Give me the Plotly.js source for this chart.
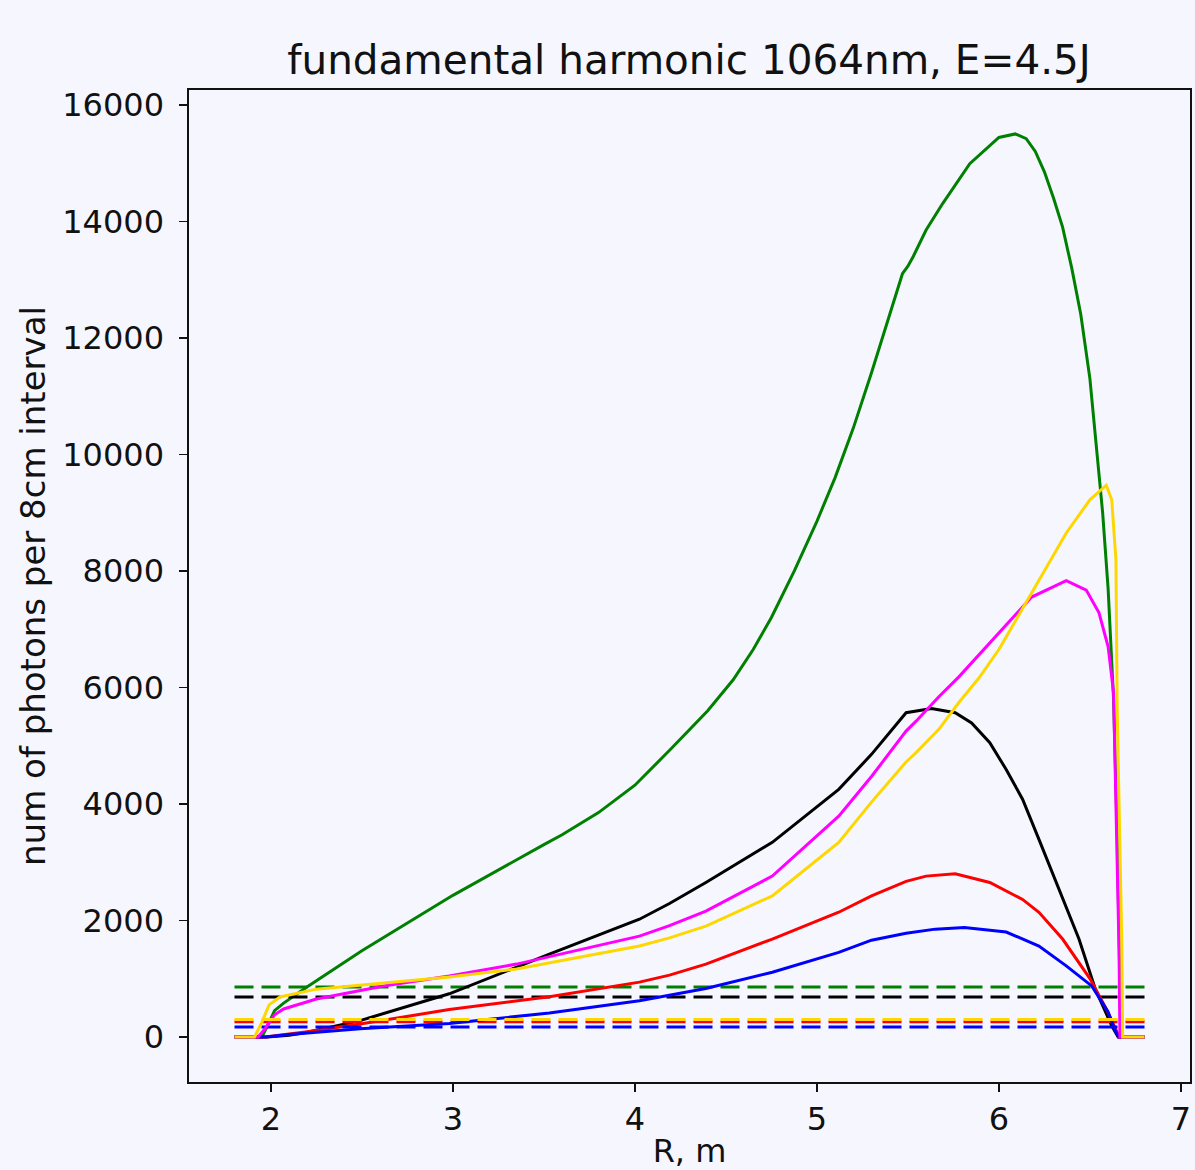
<!DOCTYPE html>
<html>
<head>
<meta charset="utf-8">
<script src="https://cdn.plot.ly/plotly-3.0.1.min.js"></script>
<style>html,body{margin:0;padding:0;background:#f6f7fe;}</style>
</head>
<body>
<div id="chart" style="width:1195px;height:1170px;"></div>
<script>
// R positions (m) and photon counts for each series
const rGreen = [1.8, 1.95, 1.98, 2.02, 2.07, 2.2, 2.5, 3.0, 3.5, 3.6, 3.8, 4.0, 4.2, 4.4, 4.54, 4.65, 4.75, 4.876, 5.0, 5.1, 5.2, 5.3, 5.4, 5.47, 5.5, 5.53, 5.6, 5.69, 5.84, 6.0, 6.09, 6.15, 6.2, 6.25, 6.3, 6.35, 6.4, 6.45, 6.5, 6.54, 6.57, 6.6, 6.63, 6.65, 6.67, 6.8];
const nGreen = [0, 0, 180, 450, 580, 860, 1480, 2430, 3300, 3470, 3850, 4320, 4950, 5600, 6130, 6650, 7200, 8000, 8850, 9600, 10450, 11400, 12400, 13100, 13230, 13400, 13850, 14300, 14990, 15440, 15500, 15420, 15200, 14850, 14400, 13900, 13200, 12400, 11300, 10000, 9000, 7700, 5800, 3500, 0, 0];

const rBlack = [1.8, 1.98, 2.1, 2.2, 2.49, 2.98, 3.53, 4.025, 4.19, 4.39, 4.755, 5.12, 5.3, 5.49, 5.63, 5.76, 5.85, 5.95, 6.04, 6.13, 6.22, 6.33, 6.44, 6.53, 6.62, 6.655, 6.8];
const nBlack = [0, 0, 30, 80, 280, 740, 1420, 2020, 2290, 2650, 3340, 4250, 4850, 5565, 5635, 5565, 5390, 5050, 4590, 4080, 3390, 2550, 1680, 820, 190, 0, 0];

const rRed = [1.8, 1.97, 2.1, 2.2, 2.49, 2.98, 3.53, 4.025, 4.19, 4.39, 4.755, 5.12, 5.3, 5.49, 5.6, 5.76, 5.95, 6.13, 6.22, 6.35, 6.5, 6.59, 6.65, 6.66, 6.8];
const nRed = [0, 0, 50, 90, 220, 470, 690, 940, 1060, 1250, 1680, 2140, 2420, 2670, 2760, 2800, 2650, 2360, 2140, 1680, 1000, 480, 80, 0, 0];

const rBlue = [1.8, 1.97, 2.1, 2.49, 2.98, 3.53, 4.025, 4.19, 4.39, 4.755, 5.12, 5.3, 5.49, 5.65, 5.81, 6.04, 6.22, 6.37, 6.51, 6.6, 6.64, 6.66, 6.8];
const nBlue = [0, 0, 40, 140, 230, 410, 620, 710, 830, 1110, 1450, 1660, 1780, 1850, 1880, 1800, 1560, 1220, 875, 430, 100, 0, 0];

const rMagenta = [1.8, 1.93, 1.97, 2.02, 2.07, 2.25, 2.62, 2.98, 3.35, 3.71, 4.025, 4.19, 4.39, 4.755, 5.12, 5.3, 5.49, 5.545, 5.67, 5.78, 6.0, 6.18, 6.37, 6.48, 6.55, 6.6, 6.63, 6.66, 6.665, 6.8];
const nMagenta = [0, 0, 150, 380, 480, 650, 875, 1045, 1250, 1510, 1730, 1910, 2160, 2760, 3790, 4470, 5250, 5420, 5840, 6180, 6940, 7550, 7830, 7670, 7280, 6700, 5910, 1500, 0, 0];

const rGold = [1.8, 1.91, 1.95, 1.99, 2.05, 2.25, 2.62, 2.98, 3.35, 3.71, 4.025, 4.19, 4.39, 4.755, 5.12, 5.3, 5.49, 5.545, 5.67, 5.78, 5.89, 6.0, 6.18, 6.37, 6.5, 6.59, 6.62, 6.643, 6.65, 6.675, 6.68, 6.8];
const nGold = [0, 0, 250, 550, 685, 820, 925, 1030, 1165, 1370, 1560, 1700, 1900, 2420, 3340, 4030, 4720, 4880, 5280, 5740, 6160, 6650, 7620, 8650, 9220, 9470, 9220, 8190, 5620, 1680, 0, 0];

// Horizontal dashed threshold levels
const thresholdRange = [1.8, 6.8];
const thresholdGreen = 857;
const thresholdBlack = 685;
const thresholdRed = 262;
const thresholdGold = 300;
const thresholdBlue = 170;

const titleText = 'fundamental harmonic 1064nm, E=4.5J';
const xLabel = 'R, m';
const yLabel = 'num of photons per 8cm interval';
const xTicks = [2, 3, 4, 5, 6, 7];
const yTicks = [0, 2000, 4000, 6000, 8000, 10000, 12000, 14000, 16000];

const LW = 3;
function solid(x, y, color) {
  return {x: x, y: y, type: 'scatter', mode: 'lines', line: {color: color, width: LW}, hoverinfo: 'skip', showlegend: false};
}
function dashed(level, color) {
  return {x: thresholdRange, y: [level, level], type: 'scatter', mode: 'lines',
    line: {color: color, width: LW, dash: '19px,8px'}, hoverinfo: 'skip', showlegend: false};
}

const traces = [
  solid(rGreen, nGreen, 'green'),
  dashed(thresholdGreen, 'green'),
  solid(rBlack, nBlack, 'black'),
  dashed(thresholdBlack, 'black'),
  solid(rRed, nRed, 'red'),
  dashed(thresholdRed, 'red'),
  solid(rBlue, nBlue, 'blue'),
  dashed(thresholdBlue, 'blue'),
  solid(rMagenta, nMagenta, 'magenta'),
  solid(rGold, nGold, 'gold'),
  dashed(thresholdGold, 'gold')
];

const fontFam = 'DejaVu Sans, sans-serif';
const layout = {
  width: 1195, height: 1170,
  paper_bgcolor: '#f6f7fe', plot_bgcolor: '#f6f7fe',
  margin: {l: 189, r: 5, t: 90, b: 88, pad: 0},
  title: {text: titleText, font: {family: fontFam, size: 40.5, color: '#111'},
    x: 689/1195, xanchor: 'center', xref: 'container', y: 1 - 60/1170, yref: 'container', yanchor: 'middle'},
  xaxis: {
    range: [1.55, 7.05], tickvals: xTicks, ticktext: xTicks.map(String),
    showgrid: false, zeroline: false, showline: true, mirror: true,
    linecolor: '#111', linewidth: 1.6,
    ticks: 'outside', ticklen: 8, tickwidth: 1.6, tickcolor: '#111',
    tickfont: {family: fontFam, size: 32, color: '#111'},
    title: {text: xLabel, font: {family: fontFam, size: 32, color: '#111'}, standoff: 8}
  },
  yaxis: {
    range: [-774, 16254], tickvals: yTicks, ticktext: yTicks.map(String),
    showgrid: false, zeroline: false, showline: true, mirror: true,
    linecolor: '#111', linewidth: 1.6,
    ticks: 'outside', ticklen: 8, tickwidth: 1.6, tickcolor: '#111',
    ticklabelstandoff: 9,
    tickfont: {family: fontFam, size: 32, color: '#111'},
    title: {text: yLabel, font: {family: fontFam, size: 34, color: '#111'}, standoff: 6}
  }
};

Plotly.newPlot('chart', traces, layout, {staticPlot: true, displayModeBar: false});
</script>
</body>
</html>
